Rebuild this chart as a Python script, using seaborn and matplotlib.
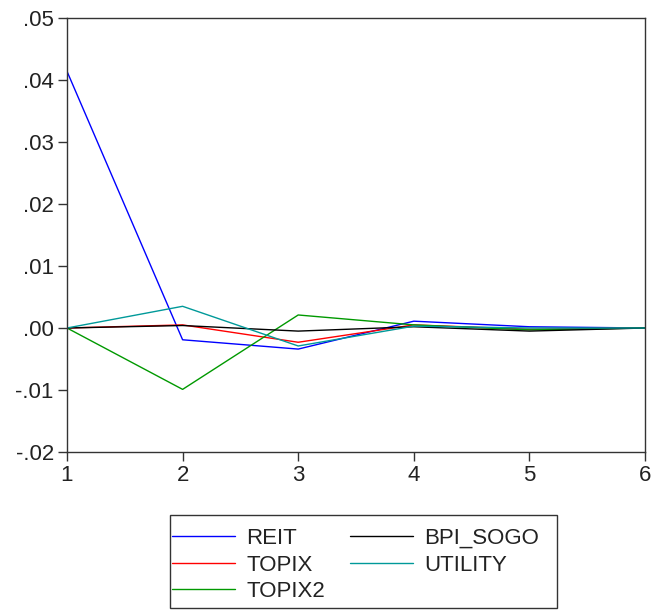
import matplotlib
matplotlib.use("Agg")
import matplotlib.pyplot as plt
import seaborn as sns
import pandas as pd
from matplotlib.ticker import FuncFormatter
from matplotlib.lines import Line2D
from matplotlib.patches import Rectangle

periods = [1, 2, 3, 4, 5, 6]
reit = [0.0414, -0.0019, -0.0034, 0.0011, 0.0002, 0.0]
topix = [0.0, 0.0005, -0.0023, 0.0005, -0.0002, 0.0]
topix2 = [0.0, -0.0099, 0.0021, 0.0005, -0.0003, 0.0]
bpi_sogo = [0.0, 0.0004, -0.0005, 0.0002, -0.0005, 0.0]
utility = [0.0, 0.0035, -0.0029, 0.0003, 0.0, 0.0]

series_names = ["REIT", "TOPIX", "TOPIX2", "BPI_SOGO", "UTILITY"]
series_vals = [reit, topix, topix2, bpi_sogo, utility]
colors = {"REIT": "#0000FF", "TOPIX": "#FF0000", "TOPIX2": "#009900",
          "BPI_SOGO": "#000000", "UTILITY": "#009999"}

rows = []
for name, vals in zip(series_names, series_vals):
    for p, v in zip(periods, vals):
        rows.append({"period": p, "value": v, "series": name})
df = pd.DataFrame(rows)

sns.set_style("white")
plt.rcParams["font.family"] = ["Liberation Sans", "DejaVu Sans"]

W, H = 653, 610
fig = plt.figure(figsize=(W / 100, H / 100), dpi=100)
ax = fig.add_axes([67 / W, 1 - 452 / H, (645 - 67) / W, (452 - 18) / H])

sns.lineplot(data=df, x="period", y="value", hue="series", hue_order=series_names,
             palette=colors, ax=ax, linewidth=1.0, legend=False)

ax.set_xlim(1, 6)
ax.set_ylim(-0.02, 0.05)
ax.set_xticks(periods)
ax.set_yticks([-0.02, -0.01, 0.0, 0.01, 0.02, 0.03, 0.04, 0.05])

def fmt(v, pos):
    s = "%.2f" % v
    if s.startswith("0"):
        s = s[1:]
    elif s.startswith("-0"):
        s = "-" + s[2:]
    return s

ax.yaxis.set_major_formatter(FuncFormatter(fmt))
ax.set_xlabel("")
ax.set_ylabel("")
for sp in ax.spines.values():
    sp.set_color("#333333")
    sp.set_linewidth(1.0)
ax.tick_params(axis="both", direction="out", length=6.5, width=1, color="#333333",
               labelsize=16, labelcolor="#222222", left=True, bottom=True)
ax.tick_params(axis="y", pad=3.0)
ax.tick_params(axis="x", pad=3)

# legend frame drawn as a figure rectangle
fig.patches.append(Rectangle((170 / W, 1 - 608 / H), (557 - 170) / W, (608 - 515) / H,
                             transform=fig.transFigure, fill=False,
                             edgecolor="#333333", linewidth=1.0))
handles = [Line2D([0], [0], color=colors[n], lw=1.0) for n in series_names]
leg = fig.legend(handles, series_names, loc="upper left",
                 bbox_to_anchor=(172 / W, 1 - 528 / H),
                 ncol=2, frameon=False, fontsize=16, labelcolor="#222222",
                 handlelength=2.85, handletextpad=0.5, columnspacing=1.1,
                 labelspacing=0.25, borderpad=0, borderaxespad=0)

fig.savefig("out.png", dpi=100)
